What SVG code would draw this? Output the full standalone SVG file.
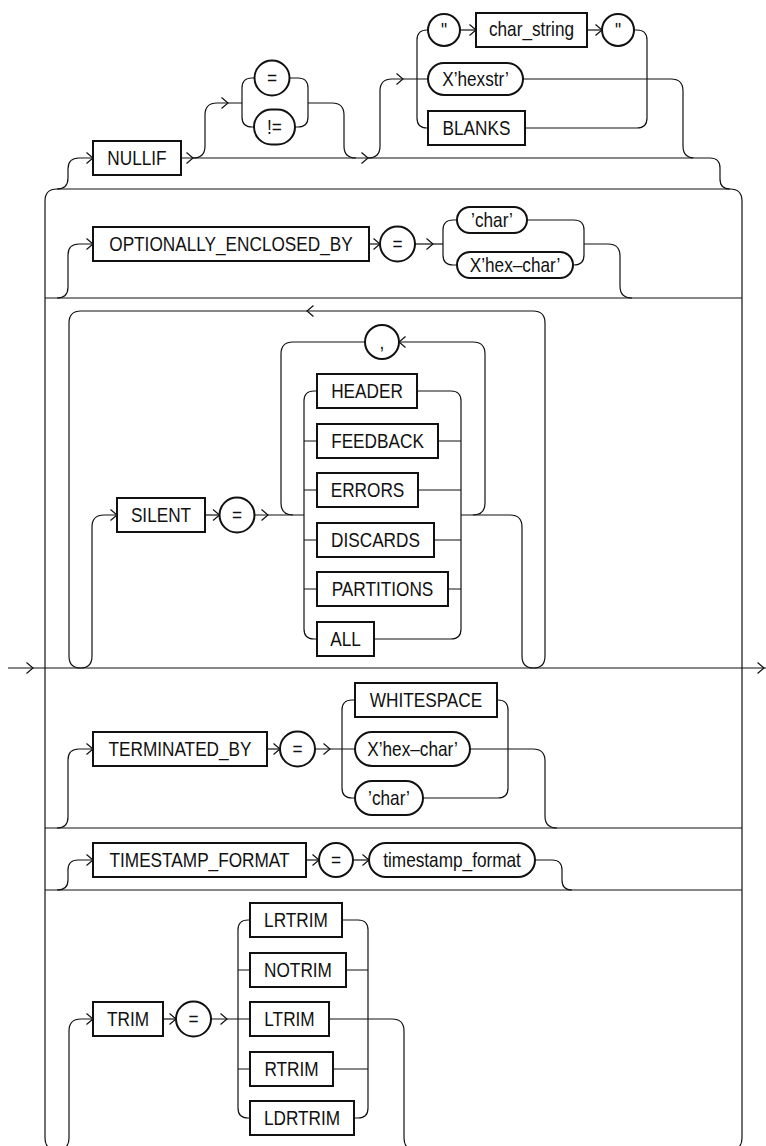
<svg xmlns="http://www.w3.org/2000/svg" width="766" height="1146" viewBox="0 0 766 1146">
<defs>
<style>
.ln{fill:none;stroke:#111;stroke-width:1.2}
.bx{fill:#fff;stroke:#111;stroke-width:2}
.t{font-family:"Liberation Sans",Arial,sans-serif;font-size:21px;fill:#111;stroke:none;text-anchor:middle;transform-box:fill-box;transform-origin:center;transform:scaleX(0.82)}
</style>
<path id="ar" d="M-6.5,-5.5L0,0L-6.5,5.5"/>
<path id="al" d="M6.5,-5.5L0,0L6.5,5.5"/>
</defs>
<rect width="766" height="1146" fill="#fff"/>
<g id="connectors" class="ln">
<path d="M730 189H57Q45 189 45 201V1138Q45 1150 57 1150H730Q742 1150 742 1138V201Q742 189 730 189Z"/>
<path d="M45 298H742M45 828H742M45 890H742"/>
<path d="M8 668H766"/>
<use href="#ar" x="33" y="668"/><use href="#ar" x="764" y="668"/>
<!-- NULLIF -->
<path d="M57 189Q68 189 68 178V169Q68 158 79 158H93"/>
<use href="#ar" x="93" y="158"/>
<path d="M181 158H693"/>
<use href="#ar" x="193" y="158"/>
<path d="M193 158Q205 158 205 146V115Q205 103 217 103H242"/>
<use href="#ar" x="228" y="103"/>
<path d="M254.5 78H252Q242 78 242 88V117Q242 127 252 127H254"/>
<path d="M289.5 78H298Q308 78 308 88V117Q308 127 298 127H295"/>
<path d="M308 103H332Q344 103 344 115V146Q344 158 356 158"/>
<use href="#ar" x="368" y="158"/>
<path d="M368 158Q380 158 380 146V91Q380 79 392 79H428"/>
<use href="#ar" x="403" y="79"/>
<path d="M428 30H427Q417 30 417 40V118Q417 128 427 128H428"/>
<path d="M460 30H476"/><use href="#ar" x="476" y="30"/>
<path d="M587 30H602"/><use href="#ar" x="602" y="30"/>
<path d="M634 30H637Q647 30 647 40V118Q647 128 637 128H525"/>
<path d="M523 79H671Q683 79 683 91V146Q683 158 695 158H710Q720 158 720 168V179Q720 189 730 189"/>
<!-- OPTIONALLY -->
<path d="M57 298Q68 298 68 287V255Q68 244 79 244H93"/>
<use href="#ar" x="93" y="244"/>
<path d="M369 244H380"/><use href="#ar" x="380" y="244"/>
<path d="M415 244H443"/><use href="#ar" x="433" y="244"/>
<path d="M457 220H453Q443 220 443 230V255Q443 265 453 265H457"/>
<path d="M527 220H574Q584 220 584 230V255Q584 265 574 265H573"/>
<path d="M584 244H608Q620 244 620 256V286Q620 298 632 298"/>
<!-- SILENT -->
<path d="M69 323Q69 311 81 311H533Q545 311 545 323V656Q545 668 533.5 668Q522 668 522 656V527Q522 515 510 515H461"/>
<use href="#al" x="307" y="311"/>
<path d="M69 323V656Q69 668 80.5 668Q92 668 92 656V527Q92 515 104 515H117"/>
<use href="#ar" x="117" y="515"/>
<path d="M205 515H219.5"/><use href="#ar" x="219.5" y="515"/>
<path d="M254.5 515H304"/><use href="#ar" x="268" y="515"/>
<path d="M293 515Q281 515 281 503V354Q281 342 293 342H365"/>
<path d="M399 342H473Q485 342 485 354V503Q485 515 473 515"/>
<use href="#al" x="399" y="342"/>
<path d="M317 391H314Q304 391 304 401V629Q304 639 314 639H317"/>
<path d="M304 441H317M304 490H317M304 540H317M304 589H317"/>
<path d="M417 391H451Q461 391 461 401V629Q461 639 451 639H374"/>
<path d="M438 441H461M418 490H461M434 540H461M448 589H461"/>
<!-- TERMINATED_BY -->
<path d="M57 828Q68 828 68 817V760Q68 749 79 749H93"/>
<use href="#ar" x="93" y="749"/>
<path d="M267 749H280"/><use href="#ar" x="280" y="749"/>
<path d="M315 749H355"/><use href="#ar" x="330" y="749"/>
<path d="M355 700H352Q342 700 342 710V788Q342 798 352 798H355"/>
<path d="M497 700H498Q508 700 508 710V788Q508 798 498 798H423"/>
<path d="M470 749H533Q545 749 545 761V816Q545 828 557 828"/>
<!-- TIMESTAMP_FORMAT -->
<path d="M57 890Q68 890 68 880V870Q68 860 78 860H93"/>
<use href="#ar" x="93" y="860"/>
<path d="M306 860H319"/><use href="#ar" x="319" y="860"/>
<path d="M353 860H369"/><use href="#ar" x="369" y="860"/>
<path d="M535 860H552Q562 860 562 870V880Q562 890 572 890"/>
<!-- TRIM -->
<path d="M57 1150Q69 1150 69 1138V1031Q69 1019 81 1019H93"/>
<use href="#ar" x="93" y="1019"/>
<path d="M163 1019H176"/><use href="#ar" x="176" y="1019"/>
<path d="M211 1019H250"/><use href="#ar" x="227" y="1019"/>
<path d="M250 920H248Q238 920 238 930V1108Q238 1118 248 1118H250"/>
<path d="M238 970H250M238 1069H250"/>
<path d="M342 920H358Q368 920 368 930V1108Q368 1118 358 1118H354"/>
<path d="M346 970H368M333 1069H368"/>
<path d="M329 1019H392Q404 1019 404 1031V1138Q404 1150 416 1150"/>
</g>
<g id="n-nullif"><rect class="bx" x="93" y="141" width="88" height="34"/><text class="t" x="137" y="165.5">NULLIF</text></g>
<g id="n-eq1"><circle class="bx" cx="272" cy="78" r="17.5"/><text class="t" x="272" y="85.5">=</text></g>
<g id="n-neq"><rect class="bx" x="254" y="109.5" width="41" height="35" rx="17.5"/><text class="t" x="274.5" y="134.5">!=</text></g>
<g id="n-q1"><circle class="bx" cx="444" cy="30" r="16"/><text class="t" x="444" y="37.5">"</text></g>
<g id="n-charstring"><rect class="bx" x="476" y="13" width="111" height="34"/><text class="t" x="531.5" y="36.5">char_string</text></g>
<g id="n-q2"><circle class="bx" cx="618" cy="30" r="16"/><text class="t" x="618" y="37.5">"</text></g>
<g id="n-hexstr"><rect class="bx" x="428" y="63" width="95" height="32" rx="16"/><text class="t" x="475.5" y="86.5">X’hexstr’</text></g>
<g id="n-blanks"><rect class="bx" x="428" y="111" width="97" height="34"/><text class="t" x="476.5" y="135.5">BLANKS</text></g>
<g id="n-optionally"><rect class="bx" x="93" y="227" width="276" height="34"/><text class="t" x="231" y="251.5">OPTIONALLY_ENCLOSED_BY</text></g>
<g id="n-eq2"><circle class="bx" cx="397.5" cy="244" r="17.5"/><text class="t" x="397.5" y="251.5">=</text></g>
<g id="n-char1"><rect class="bx" x="457" y="207" width="70" height="26" rx="13"/><text class="t" x="492" y="227.5">’char’</text></g>
<g id="n-hexchar1"><rect class="bx" x="457" y="252" width="116" height="26" rx="13"/><text class="t" x="515" y="272.5">X’hex–char’</text></g>
<g id="n-silent"><rect class="bx" x="117" y="498" width="88" height="34"/><text class="t" x="161" y="522.5">SILENT</text></g>
<g id="n-eq3"><circle class="bx" cx="237" cy="515" r="17.5"/><text class="t" x="237" y="522.5">=</text></g>
<g id="n-comma"><circle class="bx" cx="382" cy="342" r="17"/><text class="t" x="382" y="349.5">,</text></g>
<g id="n-header"><rect class="bx" x="317" y="374" width="100" height="34"/><text class="t" x="367" y="398.5">HEADER</text></g>
<g id="n-feedback"><rect class="bx" x="317" y="424" width="121" height="34"/><text class="t" x="377.5" y="448.5">FEEDBACK</text></g>
<g id="n-errors"><rect class="bx" x="317" y="473" width="101" height="34"/><text class="t" x="367.5" y="497.5">ERRORS</text></g>
<g id="n-discards"><rect class="bx" x="317" y="523" width="117" height="34"/><text class="t" x="375.5" y="547.5">DISCARDS</text></g>
<g id="n-partitions"><rect class="bx" x="317" y="572" width="131" height="34"/><text class="t" x="382.5" y="596.5">PARTITIONS</text></g>
<g id="n-all"><rect class="bx" x="317" y="622" width="57" height="34"/><text class="t" x="345.5" y="646.5">ALL</text></g>
<g id="n-terminated"><rect class="bx" x="93" y="732" width="174" height="34"/><text class="t" x="180" y="756.5">TERMINATED_BY</text></g>
<g id="n-eq4"><circle class="bx" cx="297.5" cy="749" r="17.5"/><text class="t" x="297.5" y="756.5">=</text></g>
<g id="n-whitespace"><rect class="bx" x="355" y="683" width="142" height="34"/><text class="t" x="426" y="707.5">WHITESPACE</text></g>
<g id="n-hexchar2"><rect class="bx" x="355" y="732" width="115" height="34" rx="17"/><text class="t" x="412.5" y="756.5">X’hex–char’</text></g>
<g id="n-char2"><rect class="bx" x="355" y="781" width="68" height="34" rx="17"/><text class="t" x="389" y="805.5">’char’</text></g>
<g id="n-timestamp"><rect class="bx" x="93" y="843" width="213" height="34"/><text class="t" x="199.5" y="867.5">TIMESTAMP_FORMAT</text></g>
<g id="n-eq5"><circle class="bx" cx="336" cy="860" r="17"/><text class="t" x="336" y="867.5">=</text></g>
<g id="n-tsformat"><rect class="bx" x="369" y="843" width="166" height="34" rx="17"/><text class="t" x="452" y="867.5">timestamp_format</text></g>
<g id="n-trim"><rect class="bx" x="93" y="1002" width="70" height="34"/><text class="t" x="128" y="1026.5">TRIM</text></g>
<g id="n-eq6"><circle class="bx" cx="193.5" cy="1019" r="17.5"/><text class="t" x="193.5" y="1026.5">=</text></g>
<g id="n-lrtrim"><rect class="bx" x="250" y="903" width="92" height="34"/><text class="t" x="296" y="927.5">LRTRIM</text></g>
<g id="n-notrim"><rect class="bx" x="250" y="953" width="96" height="34"/><text class="t" x="298" y="977.5">NOTRIM</text></g>
<g id="n-ltrim"><rect class="bx" x="250" y="1002" width="79" height="34"/><text class="t" x="289.5" y="1026.5">LTRIM</text></g>
<g id="n-rtrim"><rect class="bx" x="250" y="1052" width="83" height="34"/><text class="t" x="291.5" y="1076.5">RTRIM</text></g>
<g id="n-ldrtrim"><rect class="bx" x="250" y="1101" width="104" height="34"/><text class="t" x="302" y="1125.5">LDRTRIM</text></g>
</svg>
